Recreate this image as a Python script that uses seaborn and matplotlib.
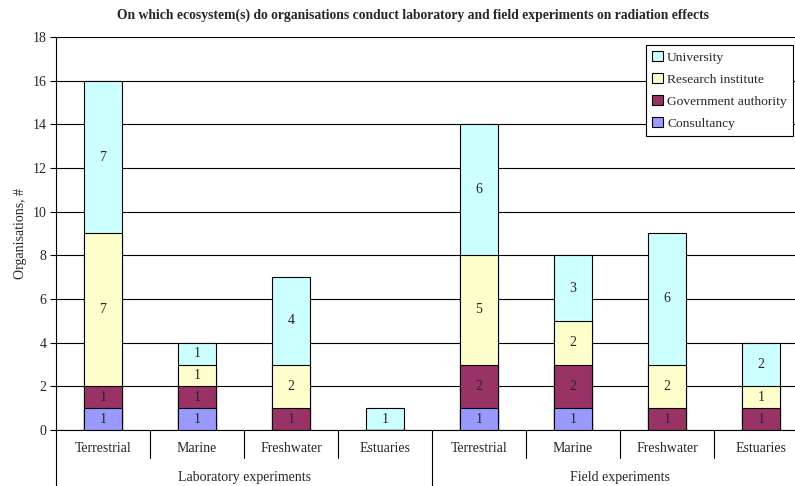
import numpy as np
import pandas as pd
import matplotlib
matplotlib.use("Agg")
import matplotlib.pyplot as plt
import seaborn as sns

# ---- data ----
groups = ["Laboratory experiments", "Field experiments"]
ecosystems = ["Terrestrial", "Marine", "Freshwater", "Estuaries"]
consultancy = [1, 1, 0, 0, 1, 1, 0, 0]
government = [1, 1, 1, 0, 2, 2, 1, 1]
research = [7, 1, 2, 0, 5, 2, 2, 1]
university = [7, 1, 4, 1, 6, 3, 6, 2]
series_names = ["Consultancy", "Government authority", "Research institute", "University"]
series_colors = ["#9999FF", "#993366", "#FFFFCC", "#CCFFFF"]
yticks = list(range(0, 19, 2))

sns.set_style("white")
plt.rcParams["font.family"] = ["Liberation Serif", "DejaVu Serif"]

keys = [f"{g}|{e}" for g in groups for e in ecosystems]
vals = np.array([consultancy, government, research, university], dtype=float)
cum = np.cumsum(vals, axis=0)
df = pd.DataFrame({"key": keys})
for i, n in enumerate(series_names):
    df[n] = cum[i]

W, H = 795, 486
fig = plt.figure(figsize=(W / 100, H / 100), dpi=100)
ax = fig.add_axes([56 / W, 1 - 430 / H, 752 / W, (430 - 37) / H])

ax.set_axisbelow(True)
for y in yticks:
    ax.axhline(y, color="black", lw=0.8, zorder=0)

for i in reversed(range(4)):
    sns.barplot(data=df, x="key", y=series_names[i], order=keys, color=series_colors[i],
                width=0.4, edgecolor="black", linewidth=0.8, saturation=1, ax=ax,
                label=series_names[i], zorder=2 + (3 - i))

# segment value labels
for j in range(len(keys)):
    base = 0
    for i in range(4):
        v = vals[i, j]
        if v > 0:
            ax.text(j, base + v / 2, f"{int(v)}", ha="center", va="center", fontsize=10, zorder=10)
        base += v

ax.set_ylim(0, 18)
ax.set_xlim(-0.5, len(keys) - 0.5)
ax.set_yticks(yticks)
ax.set_yticklabels([str(t) for t in yticks], fontsize=10)
ax.tick_params(axis="y", direction="out", length=4, width=0.8, color="black", pad=3, left=True)
ax.set_xticks([])
ax.set_xlabel("")
ax.set_ylabel("Organisations, #", fontsize=10, labelpad=4)
for s in ["top", "right"]:
    ax.spines[s].set_visible(False)
for s in ["left", "bottom"]:
    ax.spines[s].set_color("black")
    ax.spines[s].set_linewidth(0.8)

# two-level category axis
tr = ax.get_xaxis_transform()
for j, k in enumerate(keys):
    ax.text(j, -0.048, k.split("|")[1], transform=tr, ha="center", va="center", fontsize=10)
for gi, g in enumerate(groups):
    ax.text(gi * 4 + 1.5, -0.122, g, transform=tr, ha="center", va="center", fontsize=10)
for b in range(len(keys) + 1):
    x = b - 0.5
    low = -0.1425 if b % 4 == 0 else -0.071
    ax.plot([x, x], [0, low], transform=tr, color="black", lw=0.8, clip_on=False)

# legend
h, l = ax.get_legend_handles_labels()
leg = ax.legend(h, l, loc="upper right", bbox_to_anchor=(793 / W, 1 - 45 / H),
                bbox_transform=fig.transFigure, fontsize=9.7,
                frameon=True, fancybox=False, edgecolor="black", framealpha=1,
                handlelength=0.8, handleheight=0.8, handletextpad=0.3, borderpad=0.45,
                labelspacing=0.68, borderaxespad=0)
leg.get_frame().set_linewidth(0.8)

fig.suptitle("On which ecosystem(s) do organisations conduct laboratory and field experiments on radiation effects",
             x=0.52, y=0.982, fontsize=9.8, fontweight="bold", va="top")

fig.savefig("out.png", dpi=100)
